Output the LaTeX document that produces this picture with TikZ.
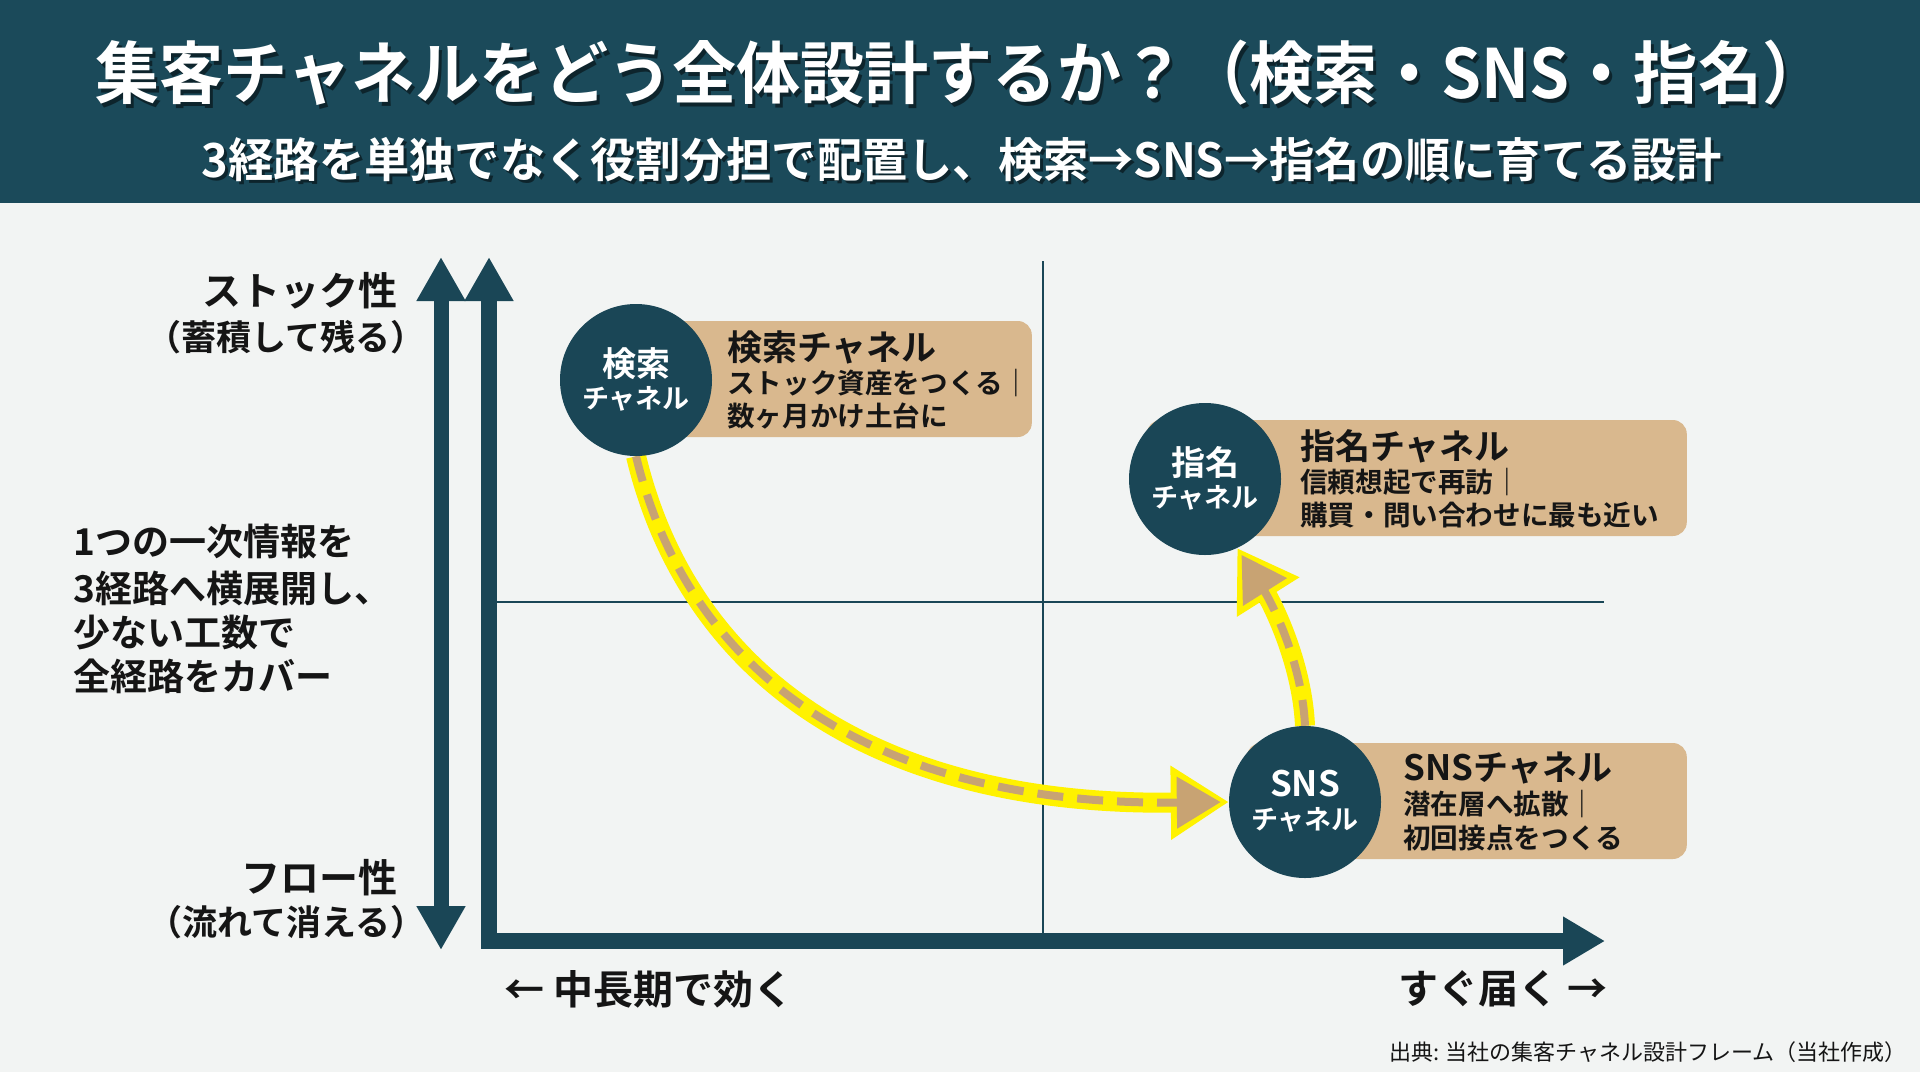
\documentclass[tikz,border=0pt]{standalone}
\usepackage{fontspec}
\usepackage{graphicx}
\setmainfont{Noto Sans CJK JP}[BoldFont={Noto Sans CJK JP Bold}]
\usetikzlibrary{arrows.meta}
\definecolor{hdr}{HTML}{1B4A5A}
\definecolor{cteal}{HTML}{1A4656}
\definecolor{ctan}{HTML}{D9B88E}
\definecolor{carrow}{HTML}{C8A373}
\definecolor{cyel}{HTML}{FFF200}
\definecolor{cbg}{HTML}{F2F4F3}
\definecolor{cink}{HTML}{151515}
\pgfdeclarelayer{bg}
\pgfdeclarelayer{mid}
\pgfsetlayers{bg,mid,main}
\newcommand{\fs}[1]{\fontsize{#1pt}{#1pt}\selectfont}
\tikzset{
  circ/.style={circle, fill=cteal, minimum size=152pt, inner sep=0pt},
  cbox/.style={rectangle, rounded corners=14pt, fill=ctan, minimum height=116pt, inner sep=0pt, anchor=east},
  ctop/.style={text=white, inner sep=0pt, font=\bfseries\fs{34}},
  cbot/.style={text=white, inner sep=0pt, font=\bfseries\fs{27}},
  btitle/.style={text=cink, inner sep=0pt, anchor=west, font=\bfseries\fs{35}},
  bline/.style={text=cink, inner sep=0pt, anchor=west, font=\bfseries\fs{27.6}},
  lbig/.style={text=cink, inner sep=0pt, anchor=east, font=\bfseries\fs{39}},
  lsmall/.style={text=cink, inner sep=0pt, anchor=east, font=\bfseries\fs{35}},
  lmid/.style={text=cink, inner sep=0pt, anchor=west, font=\bfseries\fs{37}},
  laxis/.style={text=cink, inner sep=0pt, font=\bfseries\fs{40}},
  axisline/.style={draw=cteal, line width=16pt, line join=miter},
  gridline/.style={draw=cteal, line width=1.5pt},
  yelarr/.style={draw=cyel, line width=20pt, -{Triangle[length=58pt,width=70pt]}},
  tanarr/.style={draw=carrow, line width=8pt, dash pattern=on 26pt off 14pt, -{Triangle[length=44pt,width=50pt]}, shorten >=8pt},
}
\begin{document}
\begin{tikzpicture}[x=1pt,y=1pt]
% background
\begin{pgfonlayer}{bg}
\fill[cbg] (0,0) rectangle (1920,-1072);
\fill[hdr] (0,0) rectangle (1920,-203);
\coordinate (gv1) at (1043,-261);
\coordinate (gv2) at (1043,-934);
\coordinate (gh1) at (497,-602);
\coordinate (gh2) at (1604,-602);
\draw[gridline] (gv1) -- (gv2);
\draw[gridline] (gh1) -- (gh2);
\end{pgfonlayer}
\useasboundingbox (0,0) rectangle (1920,-1072);

% header
\node[text=black, opacity=0.5, inner sep=0pt, font=\bfseries\fs{68}] (titlesh) at (964,-77) {\scalebox{0.943}[1]{集客チャネルをどう全体設計するか？（検索・SNS・指名）}};
\node[text=white, inner sep=0pt, font=\bfseries\fs{68}] (title) at (961,-73) {\scalebox{0.943}[1]{集客チャネルをどう全体設計するか？（検索・SNS・指名）}};
\node[text=black, opacity=0.5, inner sep=0pt, font=\bfseries\fs{47}] (subsh) at (965,-163) {\scalebox{0.963}[1]{3経路を単独でなく役割分担で配置し、検索→SNS→指名の順に育てる設計}};
\node[text=white, inner sep=0pt, font=\bfseries\fs{47}] (sub) at (962,-160) {\scalebox{0.963}[1]{3経路を単独でなく役割分担で配置し、検索→SNS→指名の順に育てる設計}};

% axes
\coordinate (ltop) at (441,-257);
\coordinate (lbot) at (441,-950);
\draw[axisline, line width=15pt, {Triangle[length=44pt,width=46pt]}-{Triangle[length=44pt,width=46pt]}] (ltop) -- (lbot);
\coordinate (ytop) at (489,-257);
\coordinate (corner) at (489,-941);
\coordinate (xend) at (1605,-941);
\draw[axisline, {Triangle[length=44pt,width=46pt]}-{Triangle[length=42pt,width=46pt]}] (ytop) -- (corner) -- (xend);

% left labels
\node[lbig] (st) at (398,-291) {ストック性};
\node[lsmall] (st2) at (426,-337) {（蓄積して残る）};
\node[lbig] (fl) at (398,-878) {フロー性};
\node[lsmall] (fl2) at (426,-922) {（流れて消える）};
\node[lmid] (mid1) at (73,-541) {1つの一次情報を};
\node[lmid] (mid2) at (73,-588) {3経路へ横展開し、};
\node[lmid] (mid3) at (73,-633) {少ない工数で};
\node[lmid] (mid4) at (73,-676) {全経路をカバー};

% bottom labels
\node[laxis, anchor=west] (xl) at (504,-989) {← 中長期で効く};
\node[laxis, anchor=east] (xr) at (1608,-989) {すぐ届く →};
\node[text=cink, inner sep=0pt, anchor=east, font=\fs{22}] (src) at (1907,-1052) {出典: 当社の集客チャネル設計フレーム（当社作成）};

% search channel
\node[cbox, minimum width=420pt] (kb) at (1032,-379) {};
\node[circ] (k) at (636,-380) {};
\node[ctop] (kt1) at (636,-364) {検索};
\node[cbot] (kt2) at (636,-399) {チャネル};
\node[btitle] (kh) at (727,-347) {検索チャネル};
\node[bline] (kl1) at (727,-383) {ストック資産をつくる｜};
\node[bline] (kl2) at (727,-416) {数ヶ月かけ土台に};

% named channel
\node[cbox, minimum width=540pt] (mb) at (1687,-478) {};
\node[circ] (m) at (1205,-479) {};
\node[ctop] (mt1) at (1205,-462) {指名};
\node[cbot] (mt2) at (1205,-498) {チャネル};
\node[btitle] (mh) at (1300,-446) {指名チャネル};
\node[bline] (ml1) at (1300,-482) {信頼想起で再訪｜};
\node[bline] (ml2) at (1300,-515) {購買・問い合わせに最も近い};

% SNS channel
\node[cbox, minimum width=440pt] (sb) at (1687,-801) {};
\node[circ] (s) at (1305,-802) {};
\node[ctop, font=\bfseries\fs{35}] (stx1) at (1305,-784) {SNS};
\node[cbot] (stx2) at (1305,-820) {チャネル};
\node[btitle] (sh) at (1403,-768) {SNSチャネル};
\node[bline] (sl1) at (1403,-804) {潜在層へ拡散｜};
\node[bline] (sl2) at (1403,-838) {初回接点をつくる};

% flow arrows
\begin{pgfonlayer}{mid}
\draw[yelarr] (k.south) .. controls (690,-680) and (880,-806) .. (s.west);
\draw[tanarr] (k.south) .. controls (690,-680) and (880,-806) .. (s.west);
\draw[yelarr] (s.north) .. controls (1302,-660) and (1270,-600) .. (m.-65);
\draw[tanarr] (s.north) .. controls (1302,-660) and (1270,-600) .. (m.-65);
\end{pgfonlayer}
\end{tikzpicture}
\end{document}
